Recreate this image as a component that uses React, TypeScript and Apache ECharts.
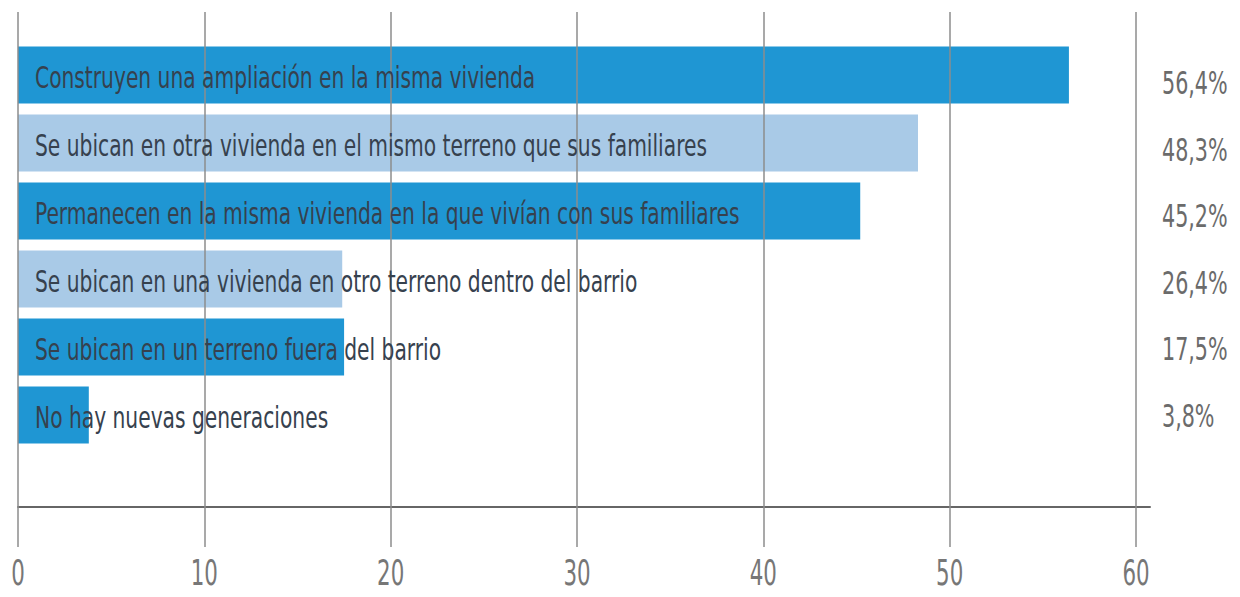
import React, { useEffect, useRef } from "react";
import * as echarts from "echarts";

const categories = [
  "Construyen una ampliación en la misma vivienda",
  "Se ubican en otra vivienda en el mismo terreno que sus familiares",
  "Permanecen en la misma vivienda en la que vivían con sus familiares",
  "Se ubican en una vivienda en otro terreno dentro del barrio",
  "Se ubican en un terreno fuera del barrio",
  "No hay nuevas generaciones",
];
// bar lengths as drawn in the picture
const barValues = [56.4, 48.3, 45.2, 17.4, 17.5, 3.8];
// printed percentages on the right
const percentLabels = ["56,4%", "48,3%", "45,2%", "26,4%", "17,5%", "3,8%"];
const barColors = ["#1f96d3", "#a9cae7", "#1f96d3", "#a9cae7", "#1f96d3", "#1f96d3"];
const xTicks = [0, 10, 20, 30, 40, 50, 60];

const FONT = "'DejaVu Sans Condensed', 'DejaVu Sans', sans-serif";

export default function App() {
  const ref = useRef<HTMLDivElement>(null);
  useEffect(() => {
    if (!ref.current) return;
    const chart = echarts.init(ref.current, undefined, { renderer: "svg" });
    chart.setOption({
      animation: false,
      backgroundColor: "#ffffff",
      grid: [
        { left: 18, right: 104, top: 12, bottom: 50 },
        { left: 18, right: 104, top: 41, height: 408 },
        { left: 18, right: 90, top: 12, bottom: 90 },
        { left: 18, right: 104, top: 50, height: 399 },
      ],
      xAxis: [
        {
          gridIndex: 0,
          type: "value",
          min: xTicks[0],
          max: xTicks[xTicks.length - 1],
          interval: 10,
          z: 3,
          axisLine: { show: false },
          axisTick: { show: false },
          splitLine: { show: true, lineStyle: { color: "#8c8c8c", width: 1.5 } },
          axisLabel: { show: false },
        },
        { gridIndex: 1, type: "value", min: 0, max: 60, show: false },
        {
          gridIndex: 2,
          type: "value",
          min: 0,
          max: 60.75,
          axisLine: { show: true, lineStyle: { color: "#666666", width: 2 } },
          axisTick: { show: false },
          axisLabel: { show: false },
          splitLine: { show: false },
        },
        { gridIndex: 3, type: "value", min: 0, max: 60, show: false },
      ],
      yAxis: [
        { gridIndex: 0, type: "value", min: 0, max: 1, show: false },
        {
          gridIndex: 1,
          type: "category",
          inverse: true,
          data: categories,
          axisLine: { show: false },
          axisTick: { show: false },
          axisLabel: { show: false },
        },
        { gridIndex: 2, type: "value", show: false },
        {
          gridIndex: 3,
          type: "category",
          inverse: true,
          data: percentLabels,
          show: false,
        },
      ],
      series: [
        {
          type: "bar",
          xAxisIndex: 1,
          yAxisIndex: 1,
          barWidth: 57,
          z: 2,
          data: barValues.map((v, i) => ({ value: v, itemStyle: { color: barColors[i] } })),
        },
        {
          // category labels, condensed
          type: "custom",
          xAxisIndex: 1,
          yAxisIndex: 1,
          z: 10,
          data: categories.map((_, i) => [0, i]),
          renderItem: (params: any, api: any) => {
            const pt = api.coord([0, api.value(1)]);
            return {
              type: "text",
              x: pt[0] + 17,
              y: pt[1] + 2,
              scaleX: 0.75,
              style: {
                text: categories[params.dataIndex],
                fontSize: 30,
                fontFamily: FONT,
                fill: "#36414e",
                align: "left",
                verticalAlign: "middle",
              },
            };
          },
        },
        {
          // percentage labels on the right
          type: "custom",
          xAxisIndex: 3,
          yAxisIndex: 3,
          z: 10,
          data: percentLabels.map((_, i) => [60, i]),
          renderItem: (params: any, api: any) => {
            const pt = api.coord([60, api.value(1)]);
            return {
              type: "text",
              x: pt[0] + 26,
              y: pt[1],
              scaleX: 0.73,
              style: {
                text: percentLabels[params.dataIndex],
                fontSize: 31.5,
                fontFamily: FONT,
                fill: "#6b6b6b",
                align: "left",
                verticalAlign: "middle",
              },
            };
          },
        },
        {
          // x tick labels
          type: "custom",
          xAxisIndex: 0,
          yAxisIndex: 0,
          z: 10,
          data: xTicks.map((t) => [t, 0]),
          renderItem: (params: any, api: any) => {
            const pt = api.coord([api.value(0), 0]);
            return {
              type: "text",
              x: pt[0],
              y: pt[1] + 26,
              scaleX: 0.66,
              style: {
                text: String(xTicks[params.dataIndex]),
                fontSize: 36,
                fontFamily: FONT,
                fill: "#777777",
                align: "center",
                verticalAlign: "middle",
              },
            };
          },
        },
      ],
    });
    return () => chart.dispose();
  }, []);
  return (
    <div
      ref={ref}
      style={{ position: "fixed", left: 0, top: 0, width: 1240, height: 597 }}
    />
  );
}
